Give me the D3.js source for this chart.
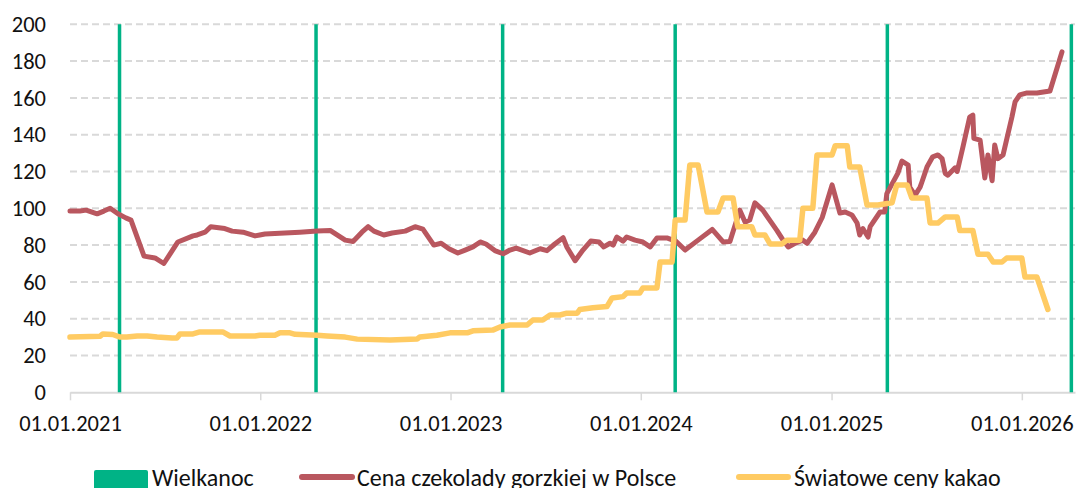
<!DOCTYPE html>
<html>
<head>
<meta charset="utf-8">
<script src="https://cdn.jsdelivr.net/npm/d3@7"></script>
<style>
    body { margin: 0; background: #fff; }
    text { font-family: Carlito, Calibri, Lato, sans-serif; fill: #111; }
</style>
</head>
<body>
<div id="chart"></div>
<script>
    // dni liczone od 01.01.2021
    var redDays = [0, 19, 31, 52, 65, 77, 92, 107, 117, 142, 163, 180, 207, 236, 244, 259, 270, 297, 311, 332, 355,
        364, 374, 412, 441, 474, 499, 528, 543, 560, 572, 583, 602, 618, 643, 662, 677, 698, 712, 727,
        744, 758, 773, 787, 798, 815, 831, 844, 856, 882, 902, 915, 930, 946, 953, 969, 984, 999, 1015,
        1024, 1036, 1042, 1049, 1061, 1068, 1084, 1099, 1113, 1126, 1145, 1163, 1180, 1205, 1232, 1253,
        1266, 1285, 1295, 1304, 1314, 1329, 1356, 1368, 1378, 1391, 1406, 1414, 1429, 1443, 1462, 1477,
        1487, 1500, 1510, 1515, 1521, 1531, 1535, 1554, 1563, 1567, 1588, 1596, 1608, 1611, 1621, 1631,
        1634, 1644, 1655, 1665, 1673, 1679, 1684, 1698, 1702, 1713, 1726, 1732, 1734, 1746, 1755, 1761,
        1769, 1774, 1780, 1790, 1807, 1813, 1822, 1836, 1855, 1880, 1903];
    var redVals = [98.5, 98.5, 99, 97, 98.5, 100, 97, 94.8, 93.6, 74, 73, 70, 81.7, 85, 85.5, 87, 90, 89, 87.6, 87, 85,
        85.5, 86, 86.6, 87, 87.6, 88, 82.7, 82, 87, 90, 87.6, 85.5, 86.6, 87.6, 90, 88.7, 80, 81, 78,
        75.7, 77.3, 79, 81.7, 80.6, 77, 75.3, 77.3, 78.4, 75.7, 78, 77, 80.6, 84, 79, 71.5, 77.3, 82.2, 81.7,
        79, 81, 80, 84.4, 82.2, 84.4, 82.7, 81.7, 79, 83.9, 83.9, 82, 77.3, 82.7, 88.5, 81.7,
        82, 99, 92.5, 93.6, 103, 99, 88, 82.7, 79, 81, 82.7, 81, 87, 95, 112.7, 97.4,
        98, 96.4, 92, 85.5, 89, 84.4, 90, 98, 98, 108, 119, 125.7, 123.5, 111.6, 107, 111.6,
        114, 122.4, 128, 129, 127, 119, 118, 122, 120, 133.3, 149.6, 150.7, 138, 137, 116.5, 129,
        115, 134.4, 127, 129, 149.6, 157.8, 161.6, 162.7, 162.7, 163.8, 185];

    var yellowDays = [0, 58, 63, 82, 96, 109, 129, 148, 167, 196, 205, 211, 236, 249, 293, 307, 355, 364, 393, 403,
        422, 432, 474, 493, 528, 551, 614, 666, 671, 704, 729, 762, 773, 811, 825, 844, 877, 888, 907,
        921, 940, 953, 973, 978, 1003, 1030, 1040, 1061, 1068, 1093, 1099, 1126, 1132, 1155, 1161, 1180,
        1189, 1205, 1222, 1243, 1253, 1272, 1281, 1308, 1314, 1333, 1343, 1366, 1375, 1400, 1406, 1425,
        1433, 1462, 1468, 1491, 1496, 1515, 1529, 1550, 1577, 1586, 1606, 1615, 1644, 1650, 1665, 1679,
        1702, 1707, 1732, 1742, 1761, 1771, 1788, 1797, 1826, 1832, 1855, 1876];
    var yellowVals = [30, 30.5, 31.7, 31.4, 30, 30, 30.6, 30.6, 30, 29.5, 29.5, 31.7, 31.7, 32.8, 32.8, 30.6, 30.6, 31, 31, 32.3,
        32.3, 31.5, 31, 30.6, 30, 28.9, 28.4, 29, 30, 31, 32.3, 32.3, 33.4, 33.8, 35.5, 36.6, 36.6, 39.3, 39.3,
        42, 42, 43, 43, 45, 46, 46.6, 51.3, 52, 54, 54, 56.7, 56.7, 70.8, 70.8, 93.6, 93.6,
        123.5, 123.5, 98, 98, 105.6, 105.6, 90, 90, 85.5, 85.5, 80.6, 80.6, 82.7, 82.7, 100, 100,
        129, 129, 134, 134, 122.4, 122.4, 101.8, 101.8, 103, 112.7, 112.7, 105.6, 105.6, 92, 92, 95.3,
        95.3, 88, 88, 75, 75, 70.8, 70.8, 73, 73, 62.6, 62.6, 45];

    var easterDates = ['2021-04-06', '2022-04-18', '2023-04-11', '2024-03-07', '2025-04-18', '2026-04-06'];
    var yTicks = [0, 20, 40, 60, 80, 100, 120, 140, 160, 180, 200];
    var legendLabels = ['Wielkanoc', 'Cena czekolady gorzkiej w Polsce', 'Światowe ceny kakao'];

    (function () {
        var w = 1079,
            h = 488,
            mLeft = 70,
            mRight = 1075,
            mTop = 24.3,
            mBottom = 392.3,
            green = '#00b386',
            red = '#b9575f',
            yellow = '#ffcb63';

        var start = new Date(2021, 0, 1);
        var parse = d3.timeParse('%Y-%m-%d');

        var x = d3.scaleTime()
            .domain([start, new Date(2026, 3, 13)])
            .range([mLeft, mRight]);
        var y = d3.scaleLinear()
            .domain([0, 200])
            .range([mBottom, mTop]);

        var svg = d3.select('#chart').append('svg')
            .attr('width', w)
            .attr('height', h);

        // siatka
        svg.append('g').selectAll('line')
            .data(yTicks.filter(function (d) { return d > 0; }))
            .enter().append('line')
            .attr('x1', mLeft).attr('x2', mRight)
            .attr('y1', function (d) { return y(d); })
            .attr('y2', function (d) { return y(d); })
            .attr('stroke', '#d9d9d9')
            .attr('stroke-width', 2)
            .attr('stroke-dasharray', '7,4');

        // os Y
        var yAxis = svg.append('g')
            .attr('transform', 'translate(' + mLeft + ',0)')
            .call(d3.axisLeft(y).tickValues(yTicks).tickSize(0).tickPadding(24));
        yAxis.select('.domain').remove();
        yAxis.selectAll('text').attr('font-size', 22.5).style('font-family', null);

        // os X
        var xAxis = svg.append('g')
            .attr('transform', 'translate(0,' + mBottom + ')')
            .call(d3.axisBottom(x)
                .tickValues(d3.timeYear.range(start, new Date(2026, 0, 2)))
                .tickFormat(d3.timeFormat('%d.%m.%Y'))
                .tickSizeInner(8)
                .tickSizeOuter(0)
                .tickPadding(15));
        xAxis.select('.domain').attr('stroke', '#d9d9d9').attr('stroke-width', 2);
        xAxis.selectAll('line').attr('stroke', '#d9d9d9').attr('stroke-width', 1.5);
        xAxis.selectAll('text').attr('font-size', 22.5).style('font-family', null);
        svg.selectAll('.tick text').attr('fill', '#111');

        // Wielkanoc
        svg.append('g').selectAll('line')
            .data(easterDates)
            .enter().append('line')
            .attr('x1', function (d) { return x(parse(d)); })
            .attr('x2', function (d) { return x(parse(d)); })
            .attr('y1', y(200))
            .attr('y2', y(0))
            .attr('stroke', green)
            .attr('stroke-width', 3.5);

        function series(days, vals) {
            return days.map(function (d, i) { return { date: d3.timeDay.offset(start, d), value: vals[i] }; });
        }

        var line = d3.line()
            .x(function (d) { return x(d.date); })
            .y(function (d) { return y(d.value); });

        svg.append('path')
            .datum(series(redDays, redVals))
            .attr('fill', 'none')
            .attr('stroke', red)
            .attr('stroke-width', 5)
            .attr('stroke-linejoin', 'round')
            .attr('stroke-linecap', 'round')
            .attr('d', line);

        svg.append('path')
            .datum(series(yellowDays, yellowVals))
            .attr('fill', 'none')
            .attr('stroke', yellow)
            .attr('stroke-width', 5.5)
            .attr('stroke-linejoin', 'round')
            .attr('stroke-linecap', 'round')
            .attr('d', line);

        // legenda
        var lg = svg.append('g');
        lg.append('rect')
            .attr('x', 94).attr('y', 470).attr('width', 54).attr('height', 22)
            .attr('rx', 2)
            .attr('fill', green);
        lg.append('line')
            .attr('x1', 302).attr('x2', 352).attr('y1', 477).attr('y2', 477)
            .attr('stroke', red).attr('stroke-width', 6).attr('stroke-linecap', 'round');
        lg.append('line')
            .attr('x1', 739).attr('x2', 788).attr('y1', 477).attr('y2', 477)
            .attr('stroke', yellow).attr('stroke-width', 6).attr('stroke-linecap', 'round');
        lg.selectAll('text')
            .data(legendLabels)
            .enter().append('text')
            .attr('x', function (d, i) { return [152, 357, 794][i]; })
            .attr('y', 486)
            .attr('font-size', 24)
            .text(function (d) { return d; });
    })();
</script>
</body>
</html>
